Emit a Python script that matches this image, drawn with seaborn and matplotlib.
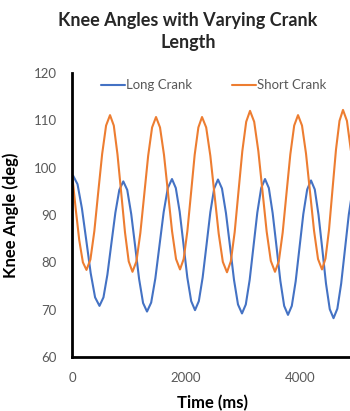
import pandas as pd
import seaborn as sns
import matplotlib.pyplot as plt

# values (time in ms, knee angle in deg)
long_time = [0, 20, 97, 174, 251, 328, 405, 482, 552, 621, 691, 761, 830, 900,
             969, 1039, 1108, 1177, 1247, 1316, 1389, 1462, 1535, 1608, 1681, 1754,
             1821, 1889, 1956, 2023, 2091, 2158, 2225, 2292, 2360, 2427, 2494, 2561,
             2631, 2701, 2772, 2842, 2912, 2982, 3049, 3117, 3184, 3251, 3319, 3386,
             3453, 3520, 3588, 3655, 3722, 3789, 3856, 3924, 3991, 4058, 4126, 4193,
             4259, 4325, 4391, 4456, 4522, 4588, 4655, 4722, 4789, 4856, 4923]
long_angle = [98.2, 98.3, 96.5, 91.4, 84.6, 77.7, 72.6, 70.8, 72.6, 77.4, 84.0, 90.5, 95.3, 97.1,
              95.3, 90.2, 83.4, 76.5, 71.4, 69.6, 71.5, 76.6, 83.6, 90.6, 95.7, 97.6,
              95.7, 90.7, 83.8, 76.8, 71.8, 69.9, 71.8, 76.8, 83.7, 90.6, 95.6, 97.5,
              95.6, 90.4, 83.4, 76.3, 71.1, 69.2, 71.1, 76.3, 83.4, 90.5, 95.7, 97.6,
              95.7, 90.4, 83.3, 76.1, 70.8, 68.9, 70.8, 76.0, 83.1, 90.2, 95.4, 97.3,
              95.4, 90.0, 82.8, 75.5, 70.1, 68.2, 70.2, 75.5, 82.8, 90.1, 95.4]

short_time = [0, 64, 127, 191, 254, 323, 392, 460, 529, 598, 667,
              733, 798, 864, 930, 995, 1061, 1130, 1199, 1268, 1336, 1405, 1474,
              1544, 1614, 1685, 1755, 1825, 1895, 1959, 2024, 2088, 2152, 2217, 2281,
              2354, 2427, 2500, 2573, 2646, 2719, 2786, 2854, 2921, 2988, 3056, 3123,
              3196, 3269, 3342, 3415, 3488, 3561, 3628, 3696, 3763, 3830, 3898, 3965,
              4035, 4105, 4176, 4246, 4316, 4386, 4447, 4509, 4570, 4631, 4693, 4754,
              4823, 4893]
short_angle = [98.8, 91.4, 84.7, 80.0, 78.4, 80.6, 86.6, 94.8, 102.9, 108.9, 111.1,
               108.9, 102.8, 94.6, 86.3, 80.2, 78.0, 80.2, 86.2, 94.4, 102.5, 108.5, 110.7,
               108.5, 102.7, 94.6, 86.6, 80.7, 78.5, 80.7, 86.6, 94.6, 102.7, 108.5, 110.7,
               108.5, 102.5, 94.3, 86.1, 80.1, 77.9, 80.2, 86.4, 95.0, 103.5, 109.7, 112.0,
               109.7, 103.5, 95.0, 86.5, 80.3, 78.0, 80.2, 86.3, 94.6, 102.8, 108.9, 111.1,
               108.9, 103.0, 94.8, 86.7, 80.7, 78.5, 80.8, 86.9, 95.4, 103.8, 109.9, 112.2,
               109.9, 103.6]

series_names = ["Long Crank", "Short Crank"]
colors = ["#4472C4", "#ED7D31"]

df = pd.concat([
    pd.DataFrame({"time": long_time, "angle": long_angle, "series": series_names[0]}),
    pd.DataFrame({"time": short_time, "angle": short_angle, "series": series_names[1]}),
])

sns.set_style("white")
plt.rcParams["font.family"] = ["Lato", "DejaVu Sans"]

fig = plt.figure(figsize=(3.5, 4.11), dpi=100)
ax = fig.add_axes([72/350, 1 - 357/411, 278/350, 284/411])

sns.lineplot(data=df, x="time", y="angle", hue="series", palette=colors,
             estimator=None, sort=False, linewidth=1.5, ax=ax)

ax.set_xlim(0, 4877)
ax.set_ylim(60, 120)
ax.set_xticks([0, 2000, 4000])
ax.set_yticks([60, 70, 80, 90, 100, 110, 120])
ax.tick_params(length=0, labelsize=9.5, labelcolor="#595959", pad=11)

for side in ["top", "right"]:
    ax.spines[side].set_visible(False)
for side in ["left", "bottom"]:
    ax.spines[side].set_color("black")
    ax.spines[side].set_linewidth(2)

ax.set_xlabel("Time (ms)", fontsize=12, fontweight="bold", color="black")
ax.set_ylabel("Knee Angle (deg)", fontsize=12, fontweight="bold", color="black")
ax.xaxis.set_label_coords(0.504, -0.135)
ax.yaxis.set_label_coords(-0.19, 0.5)

handles, labels = ax.get_legend_handles_labels()
ax.legend(handles, labels, loc="upper center", bbox_to_anchor=(0.51, 1.02), ncol=2,
          frameon=False, fontsize=9.5, labelcolor="#595959", handlelength=1.8,
          handletextpad=0.1, columnspacing=3.0)

fig.text(188/350, 1 - 12/411, "Knee Angles with Varying Crank\nLength", ha="center", va="top",
         fontsize=13, fontweight="bold", linespacing=1.35)

fig.savefig("out.png", dpi=100)
